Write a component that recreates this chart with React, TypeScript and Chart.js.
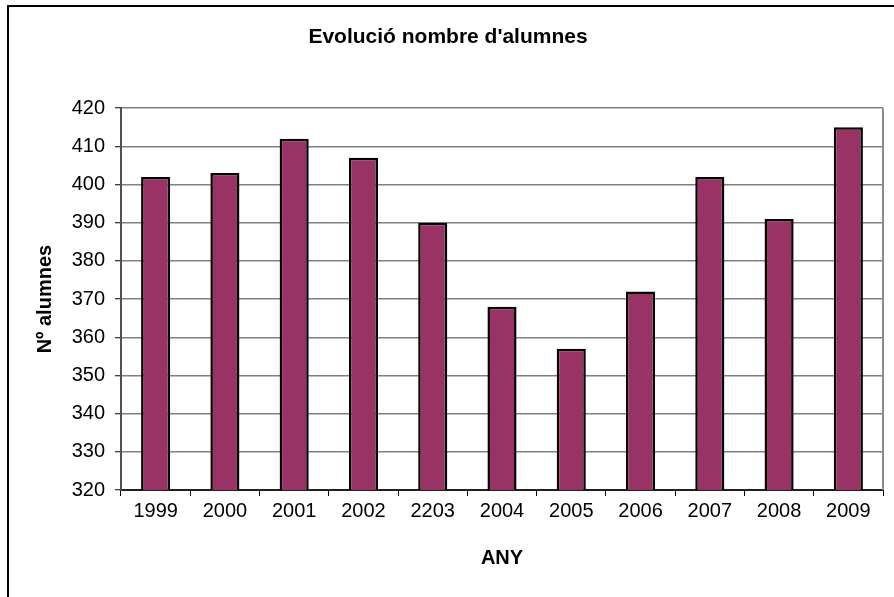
import React, { useEffect, useRef } from "react";
import { Chart, registerables } from "chart.js";

Chart.register(...registerables);

const categories = ["1999", "2000", "2001", "2002", "2203", "2004", "2005", "2006", "2007", "2008", "2009"];
const students = [402, 403, 412, 407, 390, 368, 357, 372, 402, 391, 415];
const yMin = 320;
const yMax = 420;
const yStep = 10;
const chartTitle = "Evolució nombre d'alumnes";
const xTitle = "ANY";
const yTitle = "Nº alumnes";

const FONT = "'Liberation Sans', Arial, Helvetica, sans-serif";
const W = 894;
const H = 597;

const plotRightBorder = {
  id: "plotRightBorder",
  afterLayout(chart: any) {
    // centre the title over the whole chart frame (like the original)
    if (chart.titleBlock) {
      chart.titleBlock.left = 0;
      chart.titleBlock.right = W + 2;
    }
  },
  beforeDatasetsDraw(chart: any) {
    const { ctx, chartArea } = chart;
    ctx.save();
    ctx.strokeStyle = "#8c8c8c";
    ctx.lineWidth = 2;
    ctx.beginPath();
    ctx.moveTo(chartArea.right, chartArea.top);
    ctx.lineTo(chartArea.right, chartArea.bottom);
    ctx.stroke();
    ctx.restore();
  },
};

export default function App() {
  const ref = useRef<HTMLCanvasElement | null>(null);

  useEffect(() => {
    if (!ref.current) return;
    const chart = new Chart(ref.current, {
      type: "bar",
      data: {
        labels: categories,
        datasets: [
          {
            label: yTitle,
            data: students,
            backgroundColor: "#993366",
            borderColor: "#000000",
            borderWidth: 2.5,
            borderSkipped: false,
            barPercentage: 0.42,
            categoryPercentage: 1,
          },
        ],
      },
      options: {
        responsive: false,
        animation: false,
        layout: { padding: { left: 0, right: 11, top: 0, bottom: 0 } },
        plugins: {
          legend: { display: false },
          tooltip: { enabled: false },
          title: {
            display: true,
            text: chartTitle,
            color: "#000",
            font: { family: FONT, size: 21, weight: "bold" },
            padding: { top: 25, bottom: 58 },
          },
        },
        scales: {
          x: {
            offset: true,
            grid: {
              display: true,
              offset: true,
              drawOnChartArea: false,
              drawTicks: true,
              tickLength: 6,
              tickColor: "#000",
              tickWidth: 1,
              color: "#000",
            },
            border: { display: true, color: "#202020", width: 2 },
            ticks: {
              color: "#000",
              font: { family: FONT, size: 20 },
              padding: 3,
              maxRotation: 0,
              autoSkip: false,
            },
            title: {
              display: true,
              text: xTitle,
              color: "#000",
              font: { family: FONT, size: 20, weight: "bold" },
              padding: { top: 0, bottom: 27 },
            },
            afterFit(scale: any) {
              scale.height = 107;
            },
          },
          y: {
            min: yMin,
            max: yMax,
            grid: {
              color: "#808080",
              lineWidth: 1.5,
              drawTicks: true,
              tickLength: 6,
              tickColor: "#000",
              tickWidth: 1,
            },
            border: { display: true, color: "#505050", width: 2 },
            ticks: {
              stepSize: yStep,
              color: "#000",
              font: { family: FONT, size: 20 },
              padding: 10,
            },
            title: {
              display: true,
              text: yTitle,
              color: "#000",
              font: { family: FONT, size: 20, weight: "bold" },
              padding: { top: 33, bottom: 0 },
            },
            afterFit(scale: any) {
              scale.width = 121;
            },
          },
        },
      },
      plugins: [plotRightBorder],
    });
    return () => chart.destroy();
  }, []);

  return (
    <div style={{ position: "absolute", left: 0, top: 0, width: W, height: H, overflow: "hidden", background: "#fff" }}>
      <canvas ref={ref} width={W} height={H} style={{ display: "block", position: "absolute", left: 0, top: 0 }} />
      <div
        style={{
          position: "absolute",
          left: 7,
          top: 5,
          width: W - 7,
          height: H - 5,
          boxSizing: "border-box",
          borderLeft: "2px solid #000",
          borderTop: "2px solid #000",
          pointerEvents: "none",
        }}
      />
    </div>
  );
}
